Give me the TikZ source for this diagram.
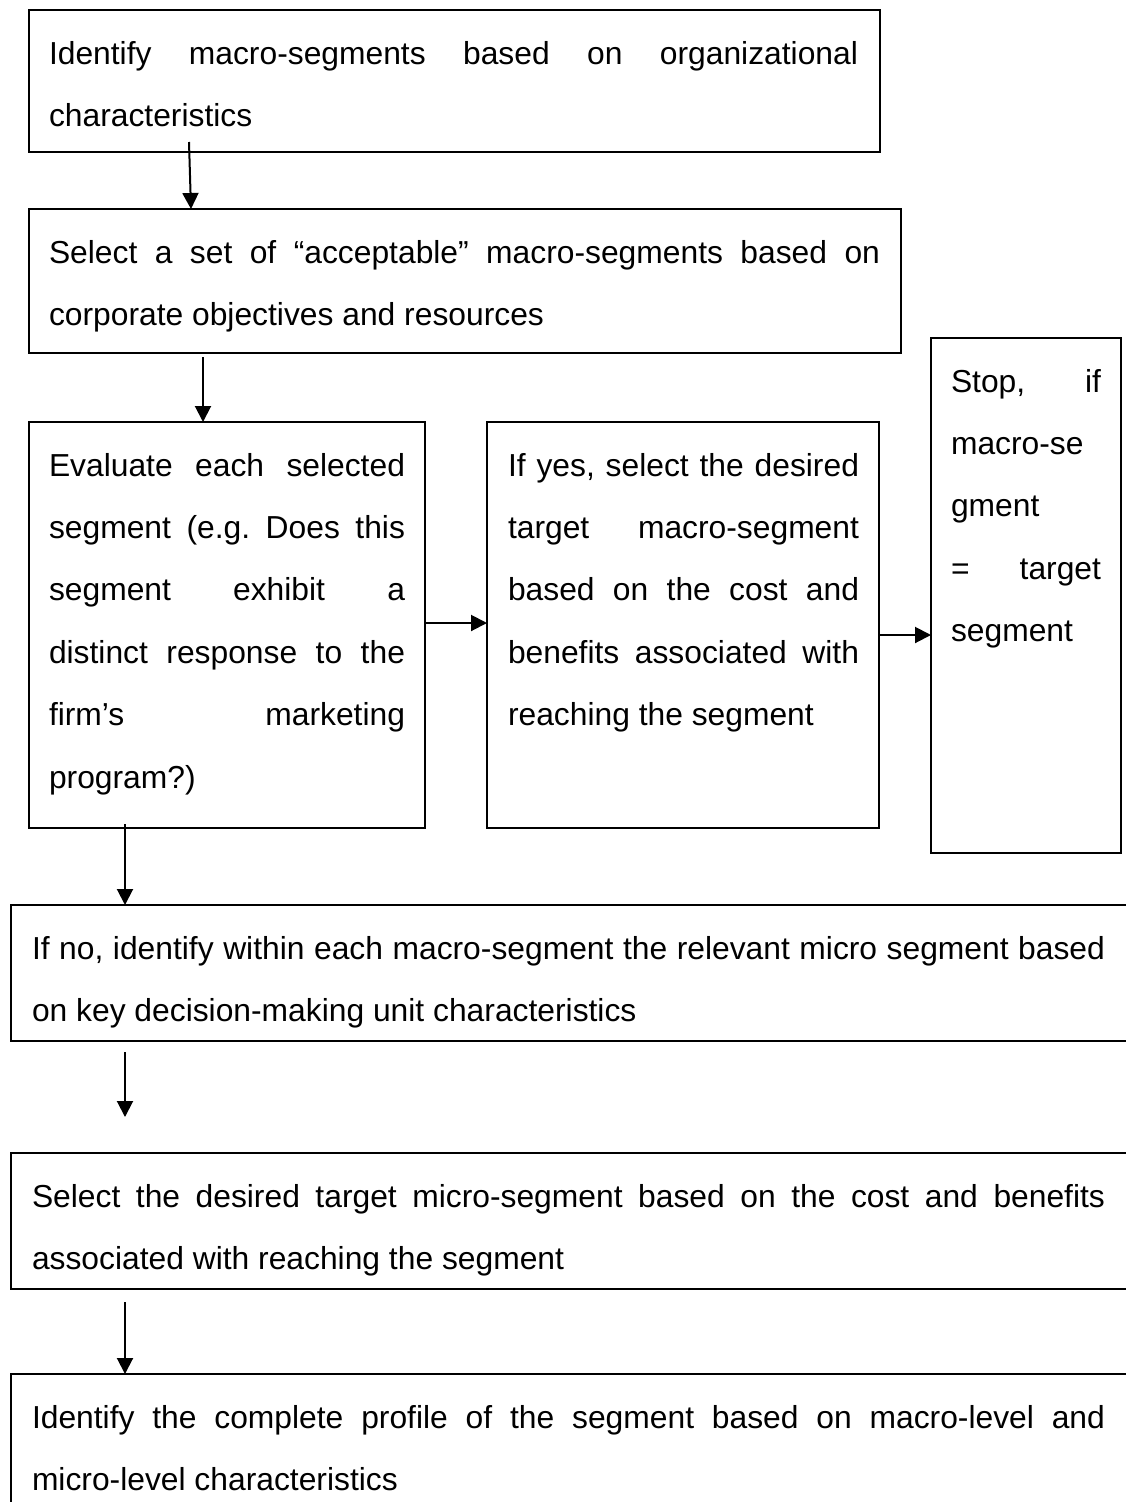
\documentclass[tikz,border=0pt]{standalone}
\usepackage{fontspec}
\setmainfont{Liberation Sans}
\usetikzlibrary{arrows.meta}
\frenchspacing

\begin{document}
\begin{tikzpicture}[x=1pt, y=-1pt,
  stage/.style={draw, line width=2pt, rectangle, inner sep=0pt, outer sep=0pt, anchor=north west},
  txt/.style={anchor=north west, inner sep=0pt, outer sep=0pt, align=justify,
    font=\fontsize{31.8}{62.4}\selectfont,
    execute at begin node={\noindent\rule{0pt}{54pt}}},
  arr/.style={line width=2pt, -{Triangle[length=16pt, width=16pt]}}
]
% page frame
\fill[white] (0,0) rectangle (1125,1502);
\useasboundingbox (0,0) rectangle (1125,1502);

% boxes
\node[stage, minimum width=851pt, minimum height=142pt] (b1) at (29,10) {};
\node[stage, minimum width=872pt, minimum height=144pt] (b2) at (29,209) {};
\node[stage, minimum width=396pt, minimum height=406pt] (b3) at (29,422) {};
\node[stage, minimum width=392pt, minimum height=406pt] (b4) at (487,422) {};
\node[stage, minimum width=190pt, minimum height=515pt] (stop) at (931,338) {};
\node[stage, minimum width=1124pt, minimum height=136pt] (b5) at (11,905) {};
\node[stage, minimum width=1124pt, minimum height=136pt] (b6) at (11,1153) {};
\node[stage, minimum width=1124pt, minimum height=141pt] (b7) at (11,1374) {};

% texts
\node[txt, text width=809pt] at ([shift={(20,0)}]b1.north west)
  {Identify macro-segments based on organizational\linebreak characteristics};
\node[txt, text width=831pt] at ([shift={(20,0)}]b2.north west)
  {Select a set of “acceptable” macro-segments based on\linebreak corporate objectives and resources};
\node[txt, text width=356pt] at ([shift={(20,0)}]b3.north west)
  {Evaluate each selected\linebreak segment (e.g. Does this\linebreak segment exhibit a\linebreak distinct response to the\linebreak firm’s marketing\linebreak program?)};
\node[txt, text width=351pt] at ([shift={(21,0)}]b4.north west)
  {If yes, select the desired\linebreak target macro-segment\linebreak based on the cost and\linebreak benefits associated with\linebreak reaching the segment};
\node[txt, text width=150pt] at ([shift={(20,0)}]stop.north west)
  {Stop,\hfill if\\ macro-se\\ gment\\ =\hfill target\\ segment};
\node[txt, text width=1073pt] at ([shift={(21,0)}]b5.north west)
  {If no, identify within each macro-segment the relevant micro segment based\linebreak on key decision-making unit characteristics};
\node[txt, text width=1073pt] at ([shift={(21,0)}]b6.north west)
  {Select the desired target micro-segment based on the cost and benefits\linebreak associated with reaching the segment};
\node[txt, text width=1073pt] at ([shift={(21,0)}]b7.north west)
  {Identify the complete profile of the segment based on macro-level and\linebreak micro-level characteristics};

% connectors
\coordinate (gap) at ([shift={(114,76)}]b5.south west);
\draw[arr] ([shift={(160,-10)}]b1.south west) -- ([shift={(162,0)}]b2.north west);
\draw[arr] ([shift={(174,4)}]b2.south west) -- ([shift={(174,0)}]b3.north west);
\draw[arr] ([shift={(0,201)}]b3.north east) -- ([shift={(0,201)}]b4.north west);
\draw[arr] ([shift={(0,213)}]b4.north east) -- ([shift={(0,297)}]stop.north west);
\draw[arr] ([shift={(96,-4)}]b3.south west) -- ([shift={(114,0)}]b5.north west);
\draw[arr] ([shift={(114,11)}]b5.south west) -- (gap);
\draw[arr] ([shift={(114,13)}]b6.south west) -- ([shift={(114,0)}]b7.north west);
\end{tikzpicture}
\end{document}
